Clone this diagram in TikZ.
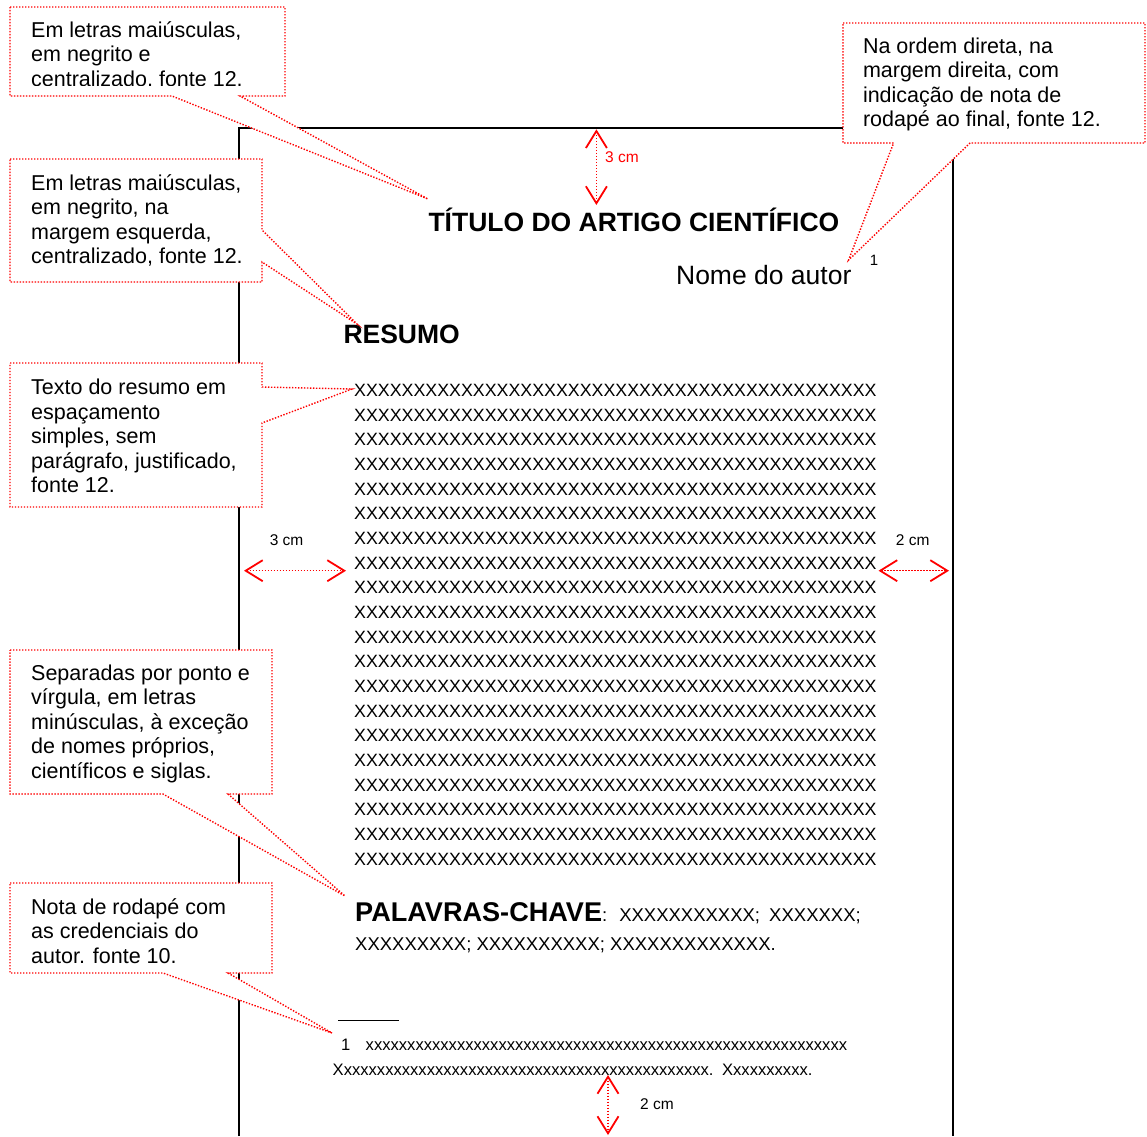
\documentclass[tikz,border=0pt]{standalone}
\usepackage{fontspec}
\setmainfont{Liberation Sans}
\usetikzlibrary{arrows.meta}
\newcommand{\rep}[2]{\foreach \k in {1,...,#1}{#2}}
\begin{document}
\begin{tikzpicture}[x=1pt,y=-1pt,
  pageline/.style={line width=1.8pt, black},
  callbox/.style={draw=red, fill=white, line width=1.4pt, dash pattern=on 1.4pt off 1.6pt},
  calltext/.style={font=\fontsize{21.5}{24.5}\selectfont, anchor=base west, inner sep=0pt},
  dimtip/.tip={Straight Barb[length=17pt,width=21pt,line width=1.8pt]},
  dimarrow/.style={red, line width=1.4pt, dash pattern=on 1.4pt off 1.6pt, dimtip-dimtip},
  dimlabel/.style={font=\fontsize{15.5}{18}\selectfont, anchor=base west, inner sep=0pt},
  headtext/.style={font=\fontsize{26.5}{30}\selectfont\bfseries, inner sep=0pt},
  bodyx/.style={font=\fontsize{17.8}{20}\selectfont, anchor=base west, inner sep=0pt},
  keytext/.style={font=\fontsize{18.5}{22}\selectfont, anchor=base west, inner sep=0pt},
  foottext/.style={font=\fontsize{16.6}{20}\selectfont, anchor=base west, inner sep=0pt}
]
\useasboundingbox (0,0) rectangle (1147,1136);
\fill[white] (0,0) rectangle (1147,1136);

% page border
\draw[pageline] (239,1136) -- (239,128) -- (953,128) -- (953,1136);

% callouts
\draw[callbox] (10,7) -- (285,7) -- (285,96) -- (240,96) -- (428,199) -- (172,96) -- (10,96) -- cycle;
\draw[callbox] (843,23) -- (1145,23) -- (1145,143) -- (970,143) -- (848.6,260) -- (893.6,143) -- (843,143) -- cycle;
\draw[callbox] (10,159) -- (262,159) -- (262,230) -- (357,324) -- (262,262) -- (262,282) -- (10,282) -- cycle;
\draw[callbox] (10,363) -- (262,363) -- (262,387) -- (352,389) -- (262,423) -- (262,507) -- (10,507) -- cycle;
\draw[callbox] (10,650) -- (272,650) -- (272,794) -- (228,794) -- (345,896) -- (163,794) -- (10,794) -- cycle;
\draw[callbox] (10,883) -- (272,883) -- (272,973) -- (228,973) -- (332,1033) -- (163,973) -- (10,973) -- cycle;

\begin{scope}
\clip (10,7) rectangle (285,85.2);
\node[calltext] (c1) at (31,37.3) {\vtop{\hbox{Em letras maiúsculas,}\hbox{em negrito e}\hbox{centralizado, fonte 12.}}};
\end{scope}
\node[calltext] (c2) at (862.8,53.3) {\vtop{\hbox{Na ordem direta, na}\hbox{margem direita, com}\hbox{indicação de nota de}\hbox{rodapé ao final, fonte 12.}}};
\node[calltext] (c3) at (31,190) {\vtop{\hbox{Em letras maiúsculas,}\hbox{em negrito, na}\hbox{margem esquerda,}\hbox{centralizado, fonte 12.}}};
\node[calltext] (c4) at (31,394.5) {\vtop{\hbox{Texto do resumo em}\hbox{espaçamento}\hbox{simples, sem}\hbox{parágrafo, justificado,}\hbox{fonte 12.}}};
\node[calltext] (c5) at (31,680) {\vtop{\hbox{Separadas por ponto e}\hbox{vírgula, em letras}\hbox{minúsculas, à exceção}\hbox{de nomes próprios,}\hbox{científicos e siglas.}}};
\node[calltext] (c6) at (31,914.3) {\vtop{\hbox{Nota de rodapé com}\hbox{as credenciais do}\hbox{autor. fonte 10.}}};

% title, author
\node[headtext, anchor=base west] (title) at (428.3,231.7) {TÍTULO DO ARTIGO CIENTÍFICO};
\node[font=\fontsize{26.5}{30}\selectfont, anchor=base east, inner sep=0pt] (author) at (851.6,284.3) {Nome do autor};
\node[font=\fontsize{15}{18}\selectfont, anchor=base, inner sep=0pt] (sup) at (874,265) {1};
\node[headtext, anchor=base west] (resumo) at (343.3,343.3) {RESUMO};

% abstract body
\foreach \i in {0,...,19}{
  \node[bodyx] (xl\i) at (354,{396.4+24.68*\i}) {\rep{44}{X}};
}

% keywords
\node[keytext] (kw1) at (355,921.7) {{\fontsize{27.1}{30}\selectfont\bfseries PALAVRAS-CHAVE}:\hspace*{12pt}\rep{11}{X};\hspace*{9.1pt}\rep{7}{X};};
\node[keytext] (kw2) at (355,950) {\rep{9}{X}; \rep{10}{X}; \rep{13}{X}.};

% footnote
\draw[line width=1pt] (338,1020) coordinate (sepA) -- (399,1020) coordinate (sepB);
\node[foottext] (fn1) at (341,1050.5) {1};
\node[foottext] (fn1x) at (365.5,1050.5) {\rep{58}{x}};
\node[foottext] (fn2) at (332.5,1075.5) {X\rep{44}{x}.\hspace*{8.5pt}X\rep{9}{x}.};

% dimension arrows
\coordinate (vt1) at (596.4,129.3);
\coordinate (vt2) at (596.4,205);
\draw[dimarrow] (vt1) -- (vt2);
\node[dimlabel, text=red] (l3top) at (605,162.2) {3 cm};

\coordinate (hl1) at (244,570.7);
\coordinate (hl2) at (346,570.7);
\draw[dimarrow] (hl1) -- (hl2);
\node[dimlabel] (l3left) at (269.6,545.5) {3 cm};

\coordinate (hr1) at (878.5,570.7);
\coordinate (hr2) at (949,570.7);
\draw[dimarrow] (hr1) -- (hr2);
\node[dimlabel] (l2right) at (895.7,545.5) {2 cm};

\coordinate (vb1) at (608,1075);
\coordinate (vb2) at (608,1135);
\draw[dimarrow] (vb1) -- (vb2);
\node[dimlabel] (l2bot) at (640,1109.5) {2 cm};
\end{tikzpicture}
\end{document}
